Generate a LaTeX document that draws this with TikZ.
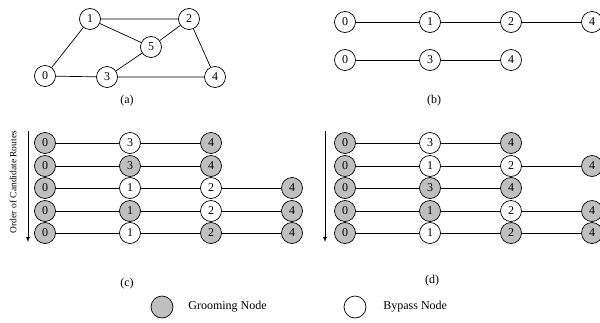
\documentclass[tikz,border=0pt]{standalone}
\usepackage{fontspec}
\setmainfont{Liberation Serif}

\begin{document}
\begin{tikzpicture}[x=1pt, y=-1pt, line width=0.7pt,
		vtx/.style={draw, circle, inner sep=0pt, minimum size=21pt, fill=white, font=\fontsize{12}{14}\selectfont},
		grm/.style={vtx, fill=black!25},
		byp/.style={vtx},
		lbl/.style={font=\fontsize{12}{14}\selectfont}]
			\useasboundingbox (0, 0) rectangle (600, 322);

			% (a) network
			\draw (45, 76) 	node[vtx] 	(a0) 	{0};
			\draw (90, 19) 	node[vtx] 	(a1) 	{1};
			\draw (189, 19) node[vtx] 	(a2) 	{2};
			\draw (107, 77) node[vtx] 	(a3) 	{3};
			\draw (215, 77) node[vtx] 	(a4) 	{4};
			\draw (151, 47) node[vtx] 	(a5) 	{5};
			\draw (127, 101) node[lbl] 	(la) 	{(a)};

			\draw (a0) -- (a1) -- (a2) -- (a4) -- (a3) -- (a0);
			\draw (a1) -- (a5) -- (a2);
			\draw (a3) -- (a5);

			% (b) candidate routes
			\draw (345, 22) node[vtx] 	(b10) 	{0};
			\draw (430, 22) node[vtx] 	(b11) 	{1};
			\draw (511, 22) node[vtx] 	(b12) 	{2};
			\draw (592, 22) node[vtx] 	(b14) 	{4};
			\draw (345, 60) node[vtx] 	(b20) 	{0};
			\draw (430, 60) node[vtx] 	(b23) 	{3};
			\draw (511, 60) node[vtx] 	(b24) 	{4};
			\draw (434, 101) node[lbl] 	(lb) 	{(b)};

			\draw (b10) -- (b11) -- (b12) -- (b14);
			\draw (b20) -- (b23) -- (b24);

			% (c)
			\draw (45, 143) 	node[grm] 	(c10) 	{0};
			\draw (130, 143) 	node[byp] 	(c13) 	{3};
			\draw (211, 143) 	node[grm] 	(c14) 	{4};
			\draw (45, 166) 	node[grm] 	(c20) 	{0};
			\draw (130, 166) 	node[grm] 	(c23) 	{3};
			\draw (211, 166) 	node[grm] 	(c24) 	{4};
			\draw (45, 188) 	node[grm] 	(c30) 	{0};
			\draw (130, 188) 	node[byp] 	(c31) 	{1};
			\draw (211, 188) 	node[byp] 	(c32) 	{2};
			\draw (292, 188) 	node[grm] 	(c34) 	{4};
			\draw (45, 211) 	node[grm] 	(c40) 	{0};
			\draw (130, 211) 	node[grm] 	(c41) 	{1};
			\draw (211, 211) 	node[byp] 	(c42) 	{2};
			\draw (292, 211) 	node[grm] 	(c44) 	{4};
			\draw (45, 233) 	node[grm] 	(c50) 	{0};
			\draw (130, 233) 	node[byp] 	(c51) 	{1};
			\draw (211, 233) 	node[grm] 	(c52) 	{2};
			\draw (292, 233) 	node[grm] 	(c54) 	{4};
			\draw (127, 284) 	node[lbl] 	(lc) 	{(c)};

			\draw (c10) -- (c13) -- (c14);
			\draw (c20) -- (c23) -- (c24);
			\draw (c30) -- (c31) -- (c32) -- (c34);
			\draw (c40) -- (c41) -- (c42) -- (c44);
			\draw (c50) -- (c51) -- (c52) -- (c54);

			\coordinate (ctop) at (28, 131);
			\coordinate (cbot) at (28, 242);
			\draw[-latex] (ctop) -- (cbot);
			\draw (13, 182) node[rotate=90, font=\fontsize{9.5}{11}\selectfont] (order) {Order of Candidate Routes};

			% (d)
			\draw (345, 143) 	node[grm] 	(d10) 	{0};
			\draw (430, 143) 	node[byp] 	(d13) 	{3};
			\draw (511, 143) 	node[grm] 	(d14) 	{4};
			\draw (345, 166) 	node[grm] 	(d20) 	{0};
			\draw (430, 166) 	node[byp] 	(d21) 	{1};
			\draw (511, 166) 	node[byp] 	(d22) 	{2};
			\draw (592, 166) 	node[grm] 	(d24) 	{4};
			\draw (345, 188) 	node[grm] 	(d30) 	{0};
			\draw (430, 188) 	node[grm] 	(d33) 	{3};
			\draw (511, 188) 	node[grm] 	(d34) 	{4};
			\draw (345, 211) 	node[grm] 	(d40) 	{0};
			\draw (430, 211) 	node[grm] 	(d41) 	{1};
			\draw (511, 211) 	node[byp] 	(d42) 	{2};
			\draw (592, 211) 	node[grm] 	(d44) 	{4};
			\draw (345, 233) 	node[grm] 	(d50) 	{0};
			\draw (430, 233) 	node[byp] 	(d51) 	{1};
			\draw (511, 233) 	node[grm] 	(d52) 	{2};
			\draw (592, 233) 	node[grm] 	(d54) 	{4};
			\draw (432, 281) 	node[lbl] 	(ld) 	{(d)};

			\draw (d10) -- (d13) -- (d14);
			\draw (d20) -- (d21) -- (d22) -- (d24);
			\draw (d30) -- (d33) -- (d34);
			\draw (d40) -- (d41) -- (d42) -- (d44);
			\draw (d50) -- (d51) -- (d52) -- (d54);

			\coordinate (dtop) at (325, 131);
			\coordinate (dbot) at (325, 242);
			\draw[-latex] (dtop) -- (dbot);

			% legend
			\draw (162, 307) 	node[grm, minimum size=22pt] 	(kg) 	{};
			\draw (188, 307) 	node[lbl, anchor=west, inner sep=0pt] 	(kgt) 	{Grooming Node};
			\draw (355, 307) 	node[byp, minimum size=22pt] 	(kb) 	{};
			\draw (383, 307) 	node[lbl, anchor=west, inner sep=0pt] 	(kbt) 	{Bypass Node};
		\end{tikzpicture}
\end{document}
